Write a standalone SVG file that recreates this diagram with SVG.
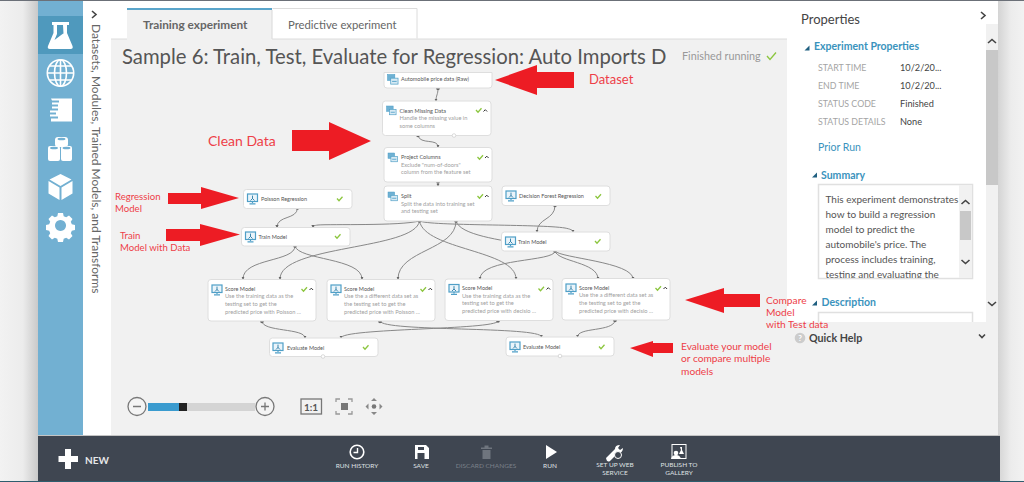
<svg xmlns="http://www.w3.org/2000/svg" width="1024" height="482" viewBox="0 0 1024 482">
<style>
text{font-family:"Lato","Open Sans","Liberation Sans",sans-serif}
.box{fill:#fff;stroke:#dedede;stroke-width:1}
.nt{font-size:5.500px;fill:#555}
.nd{font-size:5.700px;fill:#a0a0a0}
.chk{fill:none;stroke:#8cc63f;stroke-width:1.300}
.car{fill:none;stroke:#333;stroke-width:1}
.c{fill:none;stroke:#888;stroke-width:1;marker-end:url(#ah)}
.c0{fill:none;stroke:#888;stroke-width:1}
.p{fill:#666}
.wp{fill:#fff;stroke:#ccc;stroke-width:.7}
.arr{fill:#ed1c24}
.r{fill:#ee3e48}
.r14{font-size:14px}
.r10{font-size:10.200px}
.r9{font-size:9.600px}
.lbl{font-size:8.800px;fill:#a4a4a4}
.val{font-size:9.200px;fill:#444}
.blue{fill:#3a93bd;font-weight:700;font-size:10.500px}
.sum{font-size:10px;fill:#555}
.tb{font-size:6.500px;fill:#dfe1e3;text-anchor:middle}
.ic{fill:#fff}
.ico{fill:none;stroke:#fff}
.chev{fill:none;stroke:#444;stroke-width:1.600}
.g{fill:none;stroke:#777;stroke-width:1.300}
</style>
<defs>
<linearGradient id="lg" x1="0" x2="1" y1="0" y2="0"><stop offset="0" stop-color="#f2f2f2"/><stop offset=".6" stop-color="#ececec"/><stop offset="1" stop-color="#c9c9c9"/></linearGradient>
<linearGradient id="rg" x1="0" x2="1" y1="0" y2="0"><stop offset="0" stop-color="#d4d4d4"/><stop offset=".5" stop-color="#ececec"/><stop offset="1" stop-color="#f2f2f2"/></linearGradient>
<clipPath id="tc"><rect x="115" y="40" width="551" height="32"/></clipPath>
<clipPath id="sc"><rect x="819" y="185" width="140" height="93"/></clipPath>
<marker id="ah" viewBox="0 0 4 4" refX="3" refY="2" markerWidth="3.200" markerHeight="3.200" markerUnits="strokeWidth" orient="auto"><path d="M0 0L4 2L0 4z" fill="#666"/></marker>
<symbol id="mon" viewBox="0 0 12 12" overflow="visible">
<rect x="1" y="1" width="10" height="7.500" fill="#eaf4fa" stroke="#4f9fc7" stroke-width="1.200"/>
<path d="M6 2.600v3.400M4 7.500l2-2 2 2" fill="none" stroke="#3b86ad" stroke-width="1"/>
<path d="M6 8.500v1.600M3 10.800h6" fill="none" stroke="#4f9fc7" stroke-width="1.200"/>
</symbol>
<symbol id="tr" viewBox="0 0 12 12" overflow="visible">
<rect x="0" y="0" width="8" height="6.500" fill="#6fb1d3" stroke="#4f9fc7" stroke-width=".6"/>
<rect x="3.500" y="4" width="8" height="6.500" fill="#d7eaf4" stroke="#4f9fc7" stroke-width=".8"/>
<path d="M5 7.500h5" stroke="#4f9fc7"/>
</symbol>
</defs>

<rect width="1024" height="482" fill="#f0f0f0"/>
<rect width="38" height="482" fill="url(#lg)"/>
<rect x="998" width="26" height="482" fill="url(#rg)"/>
<rect x="83" y="1" width="704" height="38" fill="#fff"/>
<rect x="83" y="1" width="28" height="435" fill="#fff"/>
<rect x="111" y="39" width="676" height="396" fill="#f1f1f1"/>
<rect y="0" width="1024" height="1" fill="#6b7078"/>
<rect x="0" y="481" width="1024" height="1" fill="#2e5d6e"/>

<g id="sidebar">
<rect x="38" y="1" width="45" height="434" fill="#72b0d2"/>
<rect x="38" y="16" width="45" height="38" fill="#4f99bd"/>
<path class="ic" d="M52 22h17v3h-2v8l5.500 13q1 3-2 3H50q-3 0-2-3l5.500-13v-8H52zM57 25v9l-2.500 6 8-6 1-.5-.5-8.500z" fill-rule="evenodd"/>
<g class="ico" stroke-width="1.600"><circle cx="60.500" cy="73" r="13.200"/><ellipse cx="60.500" cy="73" rx="6" ry="13.200"/><path d="M60.500 60v26M47.500 73h26M49.500 66h22M49.500 80h22"/></g>
<path class="ic" d="M51 98.500h21v23H51v-3h7v-2h-8v-2h6v-2h-6v-2h8v-2h-6v-2h6v-2h-6v-2h7v-2h-7z"/>
<g class="ic"><rect x="55" y="137" width="13" height="10" rx="3"/><rect x="48" y="146" width="12" height="15" rx="2"/><rect x="61" y="146" width="11" height="15" rx="2"/></g>
<g fill="#72b0d2"><ellipse cx="61.500" cy="139" rx="4" ry="1.300"/><ellipse cx="54" cy="148" rx="4" ry="1.300"/><ellipse cx="66.500" cy="148" rx="4" ry="1.300"/></g>
<path class="ic" d="M48.500 181l11 6.500v12.500l-11-6.500zM61.500 187.500l11-6.500v12.500l-11 6.500zM60.500 174l11 5.500-11 6.500-11-6.500z"/>
<path class="ic" fill-rule="evenodd" d="M58 213h5l.7 3.200 2.500 1 2.800-1.700 3.500 3.500-1.700 2.800 1 2.500 3.200.7v5l-3.200.7-1 2.500 1.700 2.800-3.500 3.500-2.800-1.700-2.500 1-.7 3.200h-5l-.7-3.200-2.500-1-2.800 1.700-3.500-3.500 1.700-2.800-1-2.500-3.200-.7v-5l3.200-.7 1-2.500-1.700-2.800 3.500-3.500 2.800 1.700 2.500-1zM60.500 220a5.500 5.500 0 1 0 .01 0z"/>
</g>

<path d="M92 11l4 3.500-4 3.500" class="chev" stroke-width="1.800"/>
<text transform="translate(92,24) rotate(90)" font-size="12" fill="#666">Datasets, Modules, Trained Models, and Transforms</text>

<g id="tabs">
<rect x="127" y="8" width="145" height="31" fill="#f1f1f1"/>
<rect x="127" y="8" width="145" height="2" fill="#5aa5cb"/>
<path d="M272 10v29" stroke="#d8d8d8" fill="none"/>
<path d="M272.500 8.500h144.500v30" fill="#fff" stroke="#dcdcdc"/>
<path d="M111 39h16M272 39h515" stroke="#dcdcdc" fill="none"/>
<text x="143" y="29" font-size="11.800" font-weight="700" fill="#666">Training experiment</text>
<text x="288" y="29" font-size="11.300" fill="#666">Predictive experiment</text>
</g>
<text x="122" y="64" font-size="20.300" fill="#555" clip-path="url(#tc)">Sample 6: Train, Test, Evaluate for Regression: Auto Imports D</text>
<text x="682" y="60" font-size="10.800" fill="#999">Finished running</text>
<path d="M767 56l3 3.500 6-7" class="chk" stroke-width="2"/>

<g id="connectors">
<path class="c" d="M438 88C438 95 436 95 436 101"/>
<path class="c" d="M418 135.500C420 145 438 138 438 147"/>
<path class="c" d="M438 182V186"/>
<path class="c" d="M297.500 208C297 220 277 215 277 227.500"/>
<path class="c" d="M419.500 221C400 226 330 224 318 225C314 225.500 313 226 313 227.500"/>
<path class="c" d="M419.500 221C430 226 540 224 565 228C570 229 573 230 573 232"/>
<path class="c" d="M555 205.500C555 220 537 218 537 232"/>
<path class="c" d="M295 246C295 262 243 258 243 279"/>
<path class="c" d="M295 246C298 260 362 258 362 279"/>
<path class="c" d="M419.500 221C415 250 280 245 280 279"/>
<path class="c" d="M456 221C456 250 398 250 398 279"/>
<path class="c" d="M419.500 221C425 250 516 250 516 279"/>
<path class="c0" d="M456 221C460 235 500 240 530 245"/>
<path class="c" d="M555 251C555 262 480 258 480 279"/>
<path class="c" d="M555 251C558 262 598 262 598 279"/>
<path class="c" d="M555 251C560 258 633 262 633 279"/>
<path class="c" d="M262 321C262 332 305 328 305 338"/>
<path class="c" d="M380 321C382 332 541 326 541.500 337"/>
<path class="c" d="M498 321C496 330 341 328 341 338"/>
<path class="c" d="M615 320.500C613 332 577.500 327 577.500 337"/>
<g class="p">
<circle cx="438" cy="88.500" r="1.800"/><circle cx="418" cy="135.500" r="1.800"/><circle cx="438" cy="182" r="1.800"/>
<circle cx="419.500" cy="221" r="1.800"/><circle cx="456" cy="221" r="1.800"/><circle cx="297.500" cy="208" r="1.800"/>
<circle cx="555" cy="205.500" r="1.800"/><circle cx="295" cy="246" r="1.800"/><circle cx="555" cy="251" r="1.800"/>
<circle cx="262" cy="321.500" r="1.800"/><circle cx="380" cy="321.500" r="1.800"/><circle cx="498" cy="321" r="1.800"/><circle cx="615" cy="320.500" r="1.800"/>
</g>
</g>

<g id="n-automobile"><path class="box" d="M384 72.500h108V85q0 3-3 3H387q-3 0-3-3z"/><use href="#tr" x="387" y="74.500" width="12" height="11"/><text class="nt" x="401" y="81">Automobile price data (Raw)</text></g>

<g id="n-clean"><rect class="box" x="382.500" y="101" width="108.500" height="34.500" rx="3"/><use href="#tr" x="386" y="106" width="11" height="10"/><text class="nt" x="399.500" y="112.500">Clean Missing Data</text><text class="nd" x="399.500" y="120">Handle the missing value in</text><text class="nd" x="399.500" y="127.500">some columns</text><path class="chk" d="M476 110l2 2.200 3.500-4"/><path class="car" d="M483.500 111.500l1.800-1.800 1.800 1.800"/><circle class="wp" cx="454" cy="135.500" r="1.800"/></g>

<g id="n-project"><rect class="box" x="384" y="147.500" width="108" height="34.500" rx="3"/><use href="#tr" x="387.500" y="153" width="11" height="10"/><text class="nt" x="401" y="159">Project Columns</text><text class="nd" x="401" y="166.500">Exclude "num-of-doors"</text><text class="nd" x="401" y="174">column from the feature set</text><path class="chk" d="M477.500 157l2 2.200 3.500-4"/><path class="car" d="M485 158l1.800-1.800 1.800 1.800"/></g>

<g id="n-split"><rect class="box" x="384" y="186" width="108" height="35" rx="3"/><use href="#tr" x="387.500" y="192" width="11" height="10"/><text class="nt" x="401" y="198">Split</text><text class="nd" x="401" y="205.500">Split the data into training set</text><text class="nd" x="401" y="213">and testing set</text><path class="chk" d="M477.500 196l2 2.200 3.500-4"/><path class="car" d="M485 197l1.800-1.800 1.800 1.800"/></g>

<g id="n-decision"><rect class="box" x="502" y="186" width="108" height="19.500" rx="3"/><use href="#mon" x="505" y="190" width="12" height="12"/><text class="nt" x="519" y="198">Decision Forest Regression</text><path class="chk" d="M595.500 196l2 2.200 3.500-4"/></g>

<g id="n-poisson"><rect class="box" x="243.500" y="189.500" width="108.500" height="19" rx="3"/><use href="#mon" x="246.500" y="193" width="12" height="12"/><text class="nt" x="261" y="201">Poisson Regression</text><path class="chk" d="M337 198.500l2 2.200 3.500-4"/></g>

<g id="n-train1"><rect class="box" x="241.500" y="227.500" width="108.500" height="18.500" rx="3"/><use href="#mon" x="244.500" y="231" width="12" height="12"/><text class="nt" x="258.500" y="239">Train Model</text><path class="chk" d="M335 236l2 2.200 3.500-4"/></g>

<g id="n-train2"><rect class="box" x="501.500" y="232" width="108.500" height="19" rx="3"/><use href="#mon" x="504.500" y="236" width="12" height="12"/><text class="nt" x="518" y="244">Train Model</text><path class="chk" d="M595 241l2 2.200 3.500-4"/></g>

<g id="n-score1"><rect class="box" x="208" y="279.500" width="108" height="41.500" rx="3"/><use href="#mon" x="211" y="284" width="12" height="12"/><text class="nt" x="225" y="290.500">Score Model</text><text class="nd" x="225" y="298">Use the training data as the</text><text class="nd" x="225" y="305.500">testing set to get the</text><text class="nd" x="225" y="314">predicted price with Poisson ...</text><path class="chk" d="M301.500 289l2 2.200 3.500-4"/><path class="car" d="M309.500 290l1.800-1.800 1.800 1.800"/></g>

<g id="n-score2"><rect class="box" x="327" y="279.500" width="108" height="41.500" rx="3"/><use href="#mon" x="330" y="284" width="12" height="12"/><text class="nt" x="344" y="290.500">Score Model</text><text class="nd" x="344" y="298">Use the a different data set as</text><text class="nd" x="344" y="305.500">the testing set to get the</text><text class="nd" x="344" y="314">predicted price with Poisson ...</text><path class="chk" d="M420.500 289l2 2.200 3.500-4"/><path class="car" d="M428.500 290l1.800-1.800 1.800 1.800"/></g>

<g id="n-score3"><rect class="box" x="445" y="279" width="108" height="41.500" rx="3"/><use href="#mon" x="448" y="283.500" width="12" height="12"/><text class="nt" x="462" y="290">Score Model</text><text class="nd" x="462" y="297.500">Use the training data as the</text><text class="nd" x="462" y="305">testing set to get the</text><text class="nd" x="462" y="313">predicted price with decisio ...</text><path class="chk" d="M538.500 288.500l2 2.200 3.500-4"/><path class="car" d="M546.500 289.500l1.800-1.800 1.800 1.800"/></g>

<g id="n-score4"><rect class="box" x="562" y="278.500" width="108" height="41.500" rx="3"/><use href="#mon" x="565" y="283" width="12" height="12"/><text class="nt" x="579" y="289.500">Score Model</text><text class="nd" x="579" y="297">Use the a different data set as</text><text class="nd" x="579" y="304.500">the testing set to get the</text><text class="nd" x="579" y="313">predicted price with decisio ...</text><path class="chk" d="M655.500 288l2 2.200 3.500-4"/><path class="car" d="M663.500 289l1.800-1.800 1.800 1.800"/></g>

<g id="n-eval1"><rect class="box" x="269.500" y="338" width="108.500" height="18.500" rx="3"/><use href="#mon" x="272" y="342" width="12" height="12"/><text class="nt" x="287" y="349.500">Evaluate Model</text><path class="chk" d="M363 347l2 2.200 3.500-4"/><circle class="wp" cx="323" cy="356.500" r="1.800"/></g>

<g id="n-eval2"><rect class="box" x="506" y="337" width="108" height="19" rx="3"/><use href="#mon" x="509" y="341" width="12" height="12"/><text class="nt" x="523" y="349">Evaluate Model</text><path class="chk" d="M599 346.500l2 2.200 3.500-4"/><circle class="wp" cx="560" cy="356" r="1.800"/></g>

<g id="zoom">
<rect x="148" y="403" width="107" height="8" fill="#d4d4d4"/>
<rect x="148" y="403" width="31" height="8" fill="#3a9bcf"/>
<rect x="179" y="403" width="8" height="8" fill="#222"/>
<g fill="#f4f4f4" stroke="#777" stroke-width="1.300"><circle cx="137" cy="406.500" r="9"/><circle cx="265" cy="406.500" r="9"/></g>
<path class="g" d="M133 406.500h8M261 406.500h8M265 402.500v8"/>
<rect x="301" y="399" width="20.500" height="15" fill="none" stroke="#777" stroke-width="1.300"/>
<text x="311" y="410.500" font-size="10" font-weight="700" fill="#555" text-anchor="middle">1:1</text>
<rect x="341" y="403" width="7" height="7" fill="#777"/>
<path class="g" d="M336 402v-3h4M348 399h4v3M336 411v3h4M348 414h4v-3" style="stroke:#999"/>
<circle cx="374" cy="406.500" r="2.300" fill="#777"/>
<path d="M374 398l3 3h-6zM374 415l3-3h-6zM365.500 406.500l3-3v6zM382.500 406.500l-3-3v6z" fill="#888"/>
</g>

<g id="properties">
<rect x="787" y="1" width="211" height="434" fill="#fff"/>
<rect x="986" y="24" width="12" height="298" fill="#f1f1f1"/>
<rect x="986" y="50" width="12" height="135" fill="#c8c8c8"/>
<text x="801" y="24" font-size="13" fill="#444">Properties</text>
<path class="chev" d="M981 12l4 3.500-4 3.500"/>
<path class="chev" d="M988 43l4-3.500 4 3.500"/>
<path class="chev" d="M988 302l4 3.500 4-3.500"/>
<path d="M809.500 45.500v5h-5z" fill="#1f5f80"/>
<text class="blue" x="814" y="50">Experiment Properties</text>
<text class="lbl" x="818" y="71">START TIME</text><text class="val" x="900" y="71">10/2/20...</text>
<text class="lbl" x="818" y="89">END TIME</text><text class="val" x="900" y="89">10/2/20...</text>
<text class="lbl" x="818" y="107">STATUS CODE</text><text class="val" x="900" y="107">Finished</text>
<text class="lbl" x="818" y="125">STATUS DETAILS</text><text class="val" x="900" y="125">None</text>
<text x="818" y="151" font-size="10.500" fill="#3a93bd">Prior Run</text>
<path d="M817 172.500v5h-5z" fill="#1f5f80"/>
<text class="blue" x="821" y="179">Summary</text>
<rect x="818.500" y="184.500" width="154" height="94" fill="#fff" stroke="#e0e0e0" stroke-width="1.500"/>
<rect x="959" y="185" width="13" height="93" fill="#f1f1f1"/>
<rect x="960" y="211" width="11" height="29" fill="#c8c8c8"/>
<path class="chev" d="M961.500 204l4-3.500 4 3.500"/><path class="chev" d="M961.500 260l4 3.500 4-3.500"/>
<g clip-path="url(#sc)">
<text class="sum" x="825.500" y="203">This experiment demonstrates</text>
<text class="sum" x="825.500" y="218">how to build a regression</text>
<text class="sum" x="825.500" y="233">model to predict the</text>
<text class="sum" x="825.500" y="248">automobile's price. The</text>
<text class="sum" x="825.500" y="263">process includes training,</text>
<text class="sum" x="825.500" y="278">testing and evaluating the</text>
</g>
<path d="M817 300.500v5h-5z" fill="#1f5f80"/>
<text class="blue" x="821.500" y="306">Description</text>
<rect x="818.500" y="312.500" width="154" height="14" fill="#fff" stroke="#e0e0e0" stroke-width="1.500"/>
<rect x="787" y="322" width="211" height="113" fill="#f1f1f1"/>
<circle cx="800" cy="338" r="5.300" fill="#ccc"/>
<text x="800" y="341" font-size="8" font-weight="700" fill="#fff" text-anchor="middle">?</text>
<text x="809" y="342" font-size="10.700" font-weight="700" fill="#444">Quick Help</text>
<path class="chev" d="M979 334.500l3 3 3-3"/>
</g>

<g id="toolbar">
<rect x="38" y="436" width="962" height="45" fill="#3f4651"/>
<rect x="38" y="435" width="962" height="1" fill="#c4c4c4"/>
<path class="ic" d="M65 449h6v7h7v6h-7v7h-6v-7h-6.500v-6h6.500z"/>
<text x="85" y="464" font-size="10" font-weight="700" fill="#e6e7e9">NEW</text>
<circle class="ico" cx="357" cy="452" r="6.800" stroke-width="1.600"/><path class="ico" d="M357.500 448v4.500h-4" stroke-width="1.400"/>
<text class="tb" x="357" y="467.500">RUN HISTORY</text>
<path class="ic" fill-rule="evenodd" d="M415 445h11l3 3v11h-14zM418 447v3h6v-3zM417.500 453v6h7v-6z"/>
<text class="tb" x="421" y="467.500">SAVE</text>
<path d="M481 447.500h11v1.500h-11zM484.500 445.500h4v2h-4zM482.500 450h8v9h-8z" fill="#6f757e"/>
<text class="tb" x="486" y="467.500" style="fill:#7b818a">DISCARD CHANGES</text>
<path class="ic" d="M546 445l11 7-11 7z"/>
<text class="tb" x="550" y="467.500">RUN</text>
<path class="ic" d="M606 458l9-9q0-4 5-4l-2 3 2 2 3-2q0 5-5 5l-8 8q-3 2-4-3z"/>
<circle cx="618" cy="455" r="3.500" fill="#3f4651" stroke="#fff"/>
<text class="tb" x="615" y="467">SET UP WEB</text><text class="tb" x="615" y="475">SERVICE</text>
<rect class="ico" x="672" y="444.500" width="14" height="14"/>
<circle class="ic" cx="676" cy="453" r="2.300"/><path class="ic" d="M671 459q1-4 5-4t5 4zM680 447h2v3l2 4h-5l2-4z"/>
<text class="tb" x="679" y="467">PUBLISH TO</text><text class="tb" x="679" y="475">GALLERY</text>
</g>

<g id="annotations">
<path class="arr" d="M495 80L537 65V72H574V88H537V95Z"/>
<path class="arr" d="M292 130H329V122L371 141L329 160V151H292Z"/>
<path class="arr" d="M168 193H201V187L239 198L201 209V204H168Z"/>
<path class="arr" d="M166 229H200V224L240 234.500L200 246V241H166Z"/>
<path class="arr" d="M685 300L724 288V294H760V307H724V313Z"/>
<path class="arr" d="M630 348L653 341V343H673V353H653V357Z"/>
<text class="r" font-size="13" x="589" y="84">Dataset</text>
<text class="r r14" x="208" y="146">Clean Data</text>
<text class="r r9" x="115" y="199.500">Regression</text><text class="r r9" x="115" y="212">Model</text>
<text class="r r9" x="120" y="239">Train</text><text class="r r9" x="120" y="251">Model with Data</text>
<text class="r r10" x="766" y="304">Compare</text><text class="r r10" x="766" y="316">Model</text><text class="r r10" x="766" y="328">with Test data</text>
<text class="r r10" x="681" y="350">Evaluate your model</text><text class="r r10" x="681" y="362">or compare multiple</text><text class="r r10" x="681" y="375">models</text>
</g>
</svg>
